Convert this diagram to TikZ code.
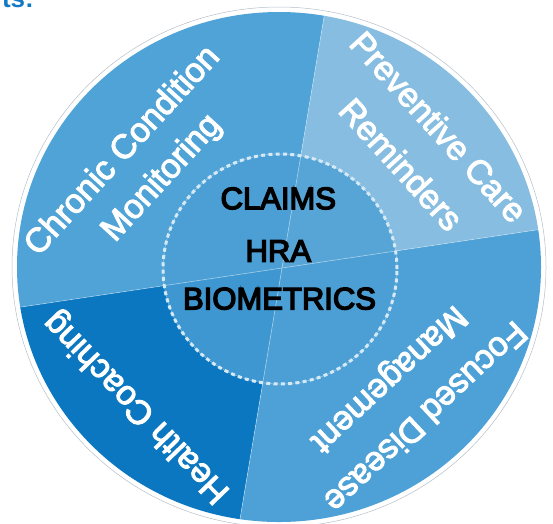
\documentclass[tikz,border=0pt]{standalone}
\usepackage{fontspec}
\setmainfont{Liberation Sans}
\newfontfamily\medfont[FakeBold=3]{Liberation Sans}
\newfontfamily\centfont[FakeBold=4.5]{Liberation Sans}
\usetikzlibrary{calc}
\definecolor{cChronic}{HTML}{4FA3D7}
\definecolor{cPrev}{HTML}{86BDE1}
\definecolor{cHealth}{HTML}{0B77C0}
\definecolor{cFocus}{HTML}{4DA1D6}
\definecolor{cInner}{HTML}{4B9FD4}
\definecolor{cDash}{HTML}{D6E9F6}
\definecolor{cTitle}{HTML}{1479C4}
\definecolor{cRing}{HTML}{B4BEC8}
\tikzset{
  outertext/.style={text=white, inner sep=0pt, font=\medfont\fontsize{34}{40}\selectfont, text height=0.72em, text depth=0pt},
  centertext/.style={text=black, inner sep=0pt, font=\centfont\fontsize{31}{36}\selectfont, text height=0.72em, text depth=0pt},
  divider/.style={white, opacity=0.5, line width=0.6pt},
}
\begin{document}
\begin{tikzpicture}[x=1pt,y=-1pt]
\useasboundingbox (0,0) rectangle (553,523);
% cut-off heading fragment
\node[anchor=base east, text=cTitle, font=\bfseries\fontsize{26}{30}\selectfont, inner sep=0pt] (head) at (34,7) {ts:};
% key points
\coordinate (c) at (282,268);
\coordinate (R) at (677.6,208.8);
\coordinate (L) at (-113.6,327.2);
\coordinate (U) at (348,-126.5);
\coordinate (D) at (216,662.5);
% outer thin ring
\draw[cRing, line width=0.5pt] (279,267) ellipse [x radius=267pt, y radius=260pt];
\begin{scope}
  \clip (279,267) ellipse [x radius=262pt, y radius=255pt];
  \fill[cPrev] (c) -- (U) -- ($(U)+(R)-(c)$) -- (R) -- cycle;
  \fill[cChronic] (c) -- (U) -- ($(U)+(L)-(c)$) -- (L) -- cycle;
  \fill[cHealth] (c) -- (L) -- ($(L)+(D)-(c)$) -- (D) -- cycle;
  \fill[cFocus] (c) -- (D) -- ($(D)+(R)-(c)$) -- (R) -- cycle;
  \fill[cInner, opacity=0.8] (280,269) ellipse [x radius=117pt, y radius=115pt];
  \draw[divider] (L) -- (R);
  \draw[divider] (U) -- (D);
\end{scope}
% dashed inner ring
\draw[white, opacity=0.45, line width=0.5pt] (280,269) ellipse [x radius=117pt, y radius=115pt];
\draw[cDash, line width=3pt, dash pattern=on 4pt off 3.3pt] (280,269) ellipse [x radius=117pt, y radius=115pt];
% centre text
\node[centertext] (claims) at (278.3,205.5) {CLAIMS};
\node[centertext] (hra) at (278.3,258) {HRA};
\node[centertext] (bio) at (279.5,305.7) {BIOMETRICS};
% sector texts
\node[outertext, rotate=47.5] (chr1) at (127,155) {Chronic Condition};
\node[outertext, rotate=47.5] (chr2) at (166,182) {Monitoring};
\node[outertext, rotate=-47.7] (pre1) at (432.5,132.5) {Preventive Care};
\node[outertext, rotate=-47.7] (pre2) at (395,170) {Reminders};
\node[outertext, rotate=134] (hea1) at (141,403) {Health Coaching};
\node[outertext, rotate=-137] (foc1) at (420.5,411.5) {Focused Disease};
\node[outertext, rotate=-137] (foc2) at (384.5,374.5) {Management};
\end{tikzpicture}
\end{document}
